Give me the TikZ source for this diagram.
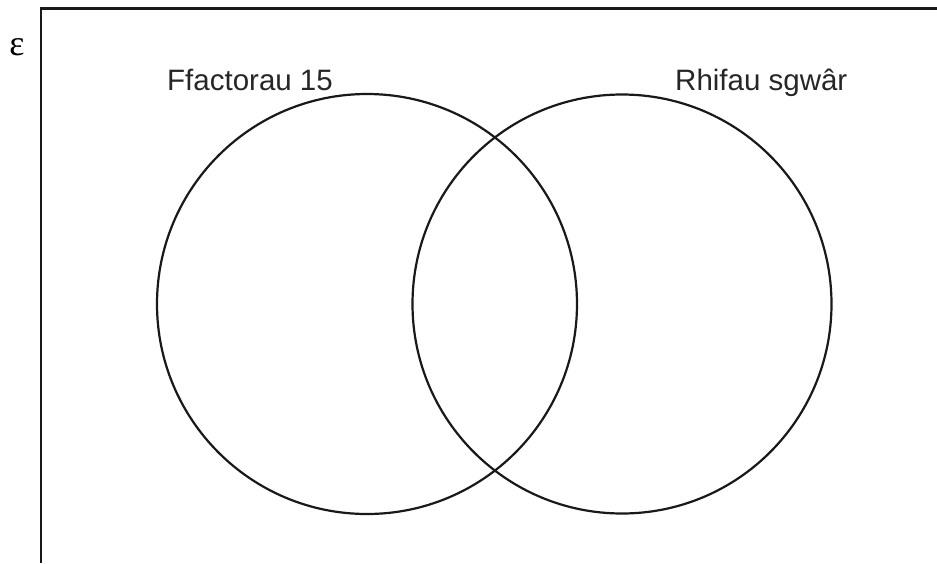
\documentclass[tikz,border=0pt]{standalone}
\usepackage{fontspec}
\setmainfont{Liberation Sans}
\newfontfamily\serifgreek{Liberation Serif}
\begin{document}
\begin{tikzpicture}[x=1pt,y=-1pt,
  setline/.style={line width=2.2pt,black!90},
  setlabel/.style={font=\fontsize{29.5}{33}\selectfont,anchor=base west,inner sep=0pt,text=black!85}]
\useasboundingbox (0,0) rectangle (937,563);
% universal set frame (open towards right and bottom)
\draw[setline] (41,563) -- (41,8.5) -- (937,8.5);
\node[font=\serifgreek\fontsize{36}{40}\selectfont,inner sep=0pt] (eps) at (17,47) {ε};
% the two sets
\node[setline,draw,circle,minimum size=420pt,inner sep=0pt] (A) at (367,304) {};
\node[setline,draw,circle,minimum size=419pt,inner sep=0pt] (B) at (622,304) {};
\node[setlabel] (la) at (167,90) {Ffactorau 15};
\node[setlabel] (lb) at (675,90) {Rhifau sgwâr};
\end{tikzpicture}
\end{document}
